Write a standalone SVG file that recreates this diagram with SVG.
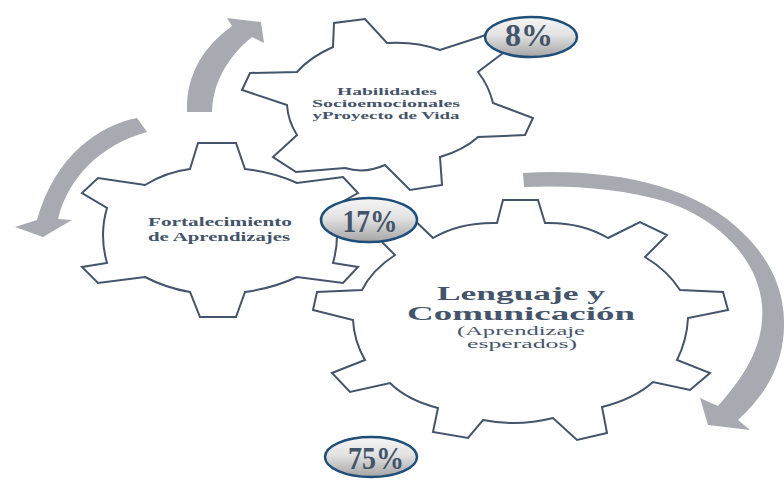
<svg xmlns="http://www.w3.org/2000/svg" width="784" height="483" viewBox="0 0 784 483">
<defs>
<linearGradient id="bg" x1="0" y1="0" x2="0" y2="1">
<stop offset="0" stop-color="#f6f6f6"/>
<stop offset="0.45" stop-color="#e2e2e2"/>
<stop offset="1" stop-color="#a4a4a4"/>
</linearGradient>
</defs>
<style>
.gear{fill:#ffffff;stroke:#44546a;stroke-width:2;stroke-linejoin:miter}
.arr{fill:#a7aab0;stroke:none}
.badge{fill:url(#bg);stroke:#1f4e79;stroke-width:2.5}
.t{font-family:"Liberation Serif","DejaVu Serif",serif;fill:#44546a;text-anchor:middle}
.b{font-weight:bold}
.pct{font-family:"Liberation Serif","DejaVu Serif",serif;font-weight:bold;font-size:32px;fill:#44546a;text-anchor:middle}
</style>
<rect width="784" height="483" fill="#ffffff"/>
<g id="connectors">
<path class="arr" d="M187,112 C186,75 203,47 232,26 L227,18 L261,22 L264,43 L252,37 C230,55 213,80 212,112 Z"/>
<path class="arr" d="M137,118 C100,125 55,155 37,220 L15,227 L43,237 L72,220 L58,219 C68,178 100,145 147,132 Z"/>
<path class="arr" d="M523,173 C605,168 695,183 745,235 C775,265 788,300 783,340 C779,370 765,395 738,420 L750,430 L708,425 L700,398 L718,406 C745,375 765,345 762,305 C758,260 720,220 667,202 C620,188 570,185 524,187 Z"/>
</g>
<g id="gear-habilidades">
<path class="gear" d="M333,47 L334,23 L365,19 L387,43 Q415,41 440,50 L480,37 L498,30 L507,50 L478,72 Q489,86 493,103 L533,118 L525,135 L478,137 Q464,150 440,157 L442,185 L410,190 L385,165 Q365,174 345,168 L296,172 L273,157 L297,135 Q288,121 287,105 L242,90 L250,73 L297,72 Q310,57 333,47 Z"/>
<text class="t b" font-size="11" x="387" y="95" textLength="100" lengthAdjust="spacingAndGlyphs">Habilidades</text>
<text class="t b" font-size="11" x="386" y="107" textLength="148" lengthAdjust="spacingAndGlyphs">Socioemocionales</text>
<text class="t b" font-size="11" x="386" y="119" textLength="147" lengthAdjust="spacingAndGlyphs">yProyecto de Vida</text>
</g>
<g id="gear-fortalecimiento">
<path class="gear" d="M190,169 L198,143 L236,143 L245,169 Q274,172 297,183 L343,177 L358,193 L333,207 Q341,235 333,263 L358,267 L343,283 L297,277 Q274,288 245,292 L236,317 L200,317 L190,292 Q166,288 145,277 L98,283 L82,267 L107,263 Q99,235 107,208 L82,193 L98,178 L145,185 Q166,172 190,169 Z"/>
<text class="t b" font-size="12.5" x="220" y="226" textLength="144" lengthAdjust="spacingAndGlyphs">Fortalecimiento</text>
<text class="t b" font-size="12.5" x="219" y="241" textLength="142" lengthAdjust="spacingAndGlyphs">de Aprendizajes</text>
</g>
<g id="gear-lenguaje">
<path class="gear" d="M497,223 L503,200 L538,200 L545,223 Q581,222 608,238 L640,222 L667,235 L645,257 Q668,271 680,290 L723,292 L728,310 L688,318 Q687,340 677,360 L710,373 L690,390 L653,382 Q634,399 602,407 L607,433 L577,440 L553,418 Q518,427 483,420 L468,438 L433,432 L438,408 Q407,400 390,383 L350,392 L332,373 L365,360 Q354,341 353,320 L313,310 L317,292 L362,290 Q372,270 395,255 L383,243 L375,226 L408,214 L433,238 Q460,222 497,223 Z"/>
<text class="t b" font-size="18" x="521" y="300" textLength="168" lengthAdjust="spacingAndGlyphs">Lenguaje y</text>
<text class="t b" font-size="18" x="521" y="320" textLength="228" lengthAdjust="spacingAndGlyphs">Comunicación</text>
<text class="t" font-size="12.5" x="521" y="335" textLength="128" lengthAdjust="spacingAndGlyphs">(Aprendizaje</text>
<text class="t" font-size="12.5" x="522" y="348" textLength="110" lengthAdjust="spacingAndGlyphs">esperados)</text>
</g>
<g id="badge-8">
<ellipse class="badge" cx="531" cy="37" rx="46" ry="20"/>
<text class="pct" x="529" y="46" textLength="48" lengthAdjust="spacingAndGlyphs">8%</text>
</g>
<g id="badge-17">
<ellipse class="badge" cx="369" cy="220" rx="48" ry="22"/>
<text class="pct" x="370" y="232" textLength="55" lengthAdjust="spacingAndGlyphs">17%</text>
</g>
<g id="badge-75">
<ellipse class="badge" cx="371" cy="457" rx="46" ry="20"/>
<text class="pct" x="376" y="469" textLength="56" lengthAdjust="spacingAndGlyphs">75%</text>
</g>
</svg>
